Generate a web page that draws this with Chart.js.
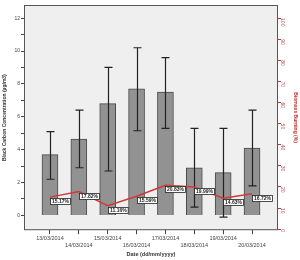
<!DOCTYPE html>
<html>
<head>
<meta charset="utf-8">
<script src="https://cdn.jsdelivr.net/npm/chart.js@4"></script>
<style>
	html, body { margin: 0; padding: 0; background: #fff; }
	#wrap { width: 300px; height: 260px; }
</style>
</head>
<body>
<div id="wrap"><canvas id="bcChart"></canvas></div>
<script>
const dates = ["13/03/2014", "14/03/2014", "15/03/2014", "16/03/2014", "17/03/2014", "18/03/2014", "19/03/2014", "20/03/2014"];
const bcMean = [3.7, 4.65, 6.8, 7.7, 7.5, 2.9, 2.6, 4.1];
const bcUpper = [5.1, 6.4, 9.0, 10.2, 9.6, 5.3, 5.3, 6.4];
const bcLower = [2.2, 2.9, 2.7, 5.15, 5.3, 0.5, -0.1, 1.8];
const biomass = [15.17, 17.82, 11.16, 15.59, 20.83, 19.99, 14.63, 16.72];

const FONT = "'Liberation Sans', Arial, sans-serif";

// plot background + frame
const framePlugin = {
	id: "frame",
	beforeDraw(chart) {
		const { ctx, chartArea: a } = chart;
		ctx.save();
		ctx.fillStyle = "#efefef";
		ctx.fillRect(a.left, a.top, a.right - a.left, a.bottom - a.top);
		ctx.restore();
	},
	afterDraw(chart) {
		const { ctx, chartArea: a } = chart;
		ctx.save();
		ctx.strokeStyle = "#555";
		ctx.lineWidth = 1;
		ctx.strokeRect(a.left + 0.5, a.top + 0.5, a.right - a.left - 1, a.bottom - a.top - 1);
		ctx.restore();
	},
};

// error bars on the bar dataset
const errorBarPlugin = {
	id: "errorBars",
	afterDatasetDraw(chart, args) {
		if (args.index !== 0) return;
		const { ctx } = chart;
		const y = chart.scales.y;
		ctx.save();
		ctx.strokeStyle = "#222";
		ctx.lineWidth = 1.2;
		args.meta.data.forEach((bar, i) => {
			const x = Math.round(bar.x) + 0.5;
			const top = y.getPixelForValue(bcUpper[i]);
			const bot = y.getPixelForValue(bcLower[i]);
			ctx.beginPath();
			ctx.moveTo(x, top);
			ctx.lineTo(x, bot);
			ctx.moveTo(x - 4, top);
			ctx.lineTo(x + 4, top);
			ctx.moveTo(x - 4, bot);
			ctx.lineTo(x + 4, bot);
			ctx.stroke();
		});
		ctx.restore();
	},
};

// percentage boxes next to the line points
const pctLabelPlugin = {
	id: "pctLabels",
	afterDatasetsDraw(chart) {
		const { ctx } = chart;
		const meta = chart.getDatasetMeta(1);
		ctx.save();
		ctx.font = "bold 5px " + FONT;
		ctx.textBaseline = "middle";
		meta.data.forEach((pt, i) => {
			const txt = biomass[i].toFixed(2) + "%";
			const w = ctx.measureText(txt).width + 3;
			const h = 6;
			const bx = Math.round(pt.x) + 0.5;
			const by = Math.round(pt.y) + 1.5;
			ctx.fillStyle = "#fff";
			ctx.fillRect(bx, by, w, h);
			ctx.strokeStyle = "#222";
			ctx.lineWidth = 0.8;
			ctx.strokeRect(bx, by, w, h);
			ctx.fillStyle = "#222";
			ctx.fillText(txt, bx + 1.5, by + h / 2 + 0.3);
		});
		ctx.restore();
	},
};

const ctx = document.getElementById("bcChart");
new Chart(ctx, {
	data: {
		datasets: [
			{
				type: "bar",
				data: bcMean.map((v, i) => ({ x: i, y: v })),
				backgroundColor: "#929292",
				borderColor: "#4a4a4a",
				borderWidth: 1,
				barThickness: 16,
				yAxisID: "y",
				order: 2,
			},
			{
				type: "line",
				data: biomass.map((v, i) => ({ x: i, y: v })),
				borderColor: "#d03a3a",
				borderWidth: 1.5,
				pointRadius: 0,
				tension: 0,
				yAxisID: "y1",
				order: 1,
			},
		],
	},
	options: {
		responsive: true,
		maintainAspectRatio: false,
		animation: false,
		layout: { padding: { top: 5, left: 0, right: 0, bottom: 2 } },
		plugins: { legend: { display: false }, tooltip: { enabled: false } },
		scales: {
			x: {
				type: "linear",
				offset: false,
				min: -0.9,
				max: 7.9,
				grid: { drawOnChartArea: false, offset: false, tickLength: 4, color: "#444" },
				border: { display: false },
				ticks: {
					stepSize: 1,
					includeBounds: false,
					autoSkip: false,
					maxRotation: 0,
					padding: 1,
					color: "#444",
					font: { family: FONT, size: 5.5 },
					callback: (v) => {
						if (!Number.isInteger(v) || v < 0 || v >= dates.length) return "";
						return v % 2 === 0 ? dates[v] : ["", dates[v]];
					},
				},
				title: {
					display: true,
					text: "Date (dd/mm/yyyy)",
					color: "#333",
					font: { family: FONT, size: 5.5, weight: "bold" },
					padding: { top: 2, bottom: 0 },
				},
			},
			y: {
				position: "left",
				min: -0.9,
				max: 12.8,
				afterFit: (s) => { s.width = 24; },
				grid: { drawOnChartArea: false, tickLength: 3, color: "#444" },
				border: { display: false },
				ticks: {
					stepSize: 1,
					includeBounds: false,
					padding: 1,
					color: "#444",
					font: { family: FONT, size: 5 },
					callback: (v) => (v % 2 === 0 ? v : ""),
				},
				title: {
					display: true,
					text: "Black Carbon Concentration (µg/m3)",
					color: "#333",
					font: { family: FONT, size: 5, weight: "bold" },
					padding: 2,
				},
			},
			y1: {
				position: "right",
				min: -0.5,
				max: 106.2,
				afterFit: (s) => { s.width = 22; },
				grid: { drawOnChartArea: false, tickLength: 3, color: "#b04040" },
				border: { display: false },
				ticks: {
					stepSize: 5,
					includeBounds: false,
					minRotation: -90,
					maxRotation: -90,
					padding: 1,
					color: "#b04848",
					font: { family: FONT, size: 5 },
					callback: (v) => (v % 10 === 0 ? v : ""),
				},
				title: {
					display: true,
					text: "Biomass Burning (%)",
					color: "#c03030",
					font: { family: FONT, size: 5, weight: "bold" },
					padding: 2,
				},
			},
		},
	},
	plugins: [framePlugin, errorBarPlugin, pctLabelPlugin],
});
</script>
</body>
</html>
